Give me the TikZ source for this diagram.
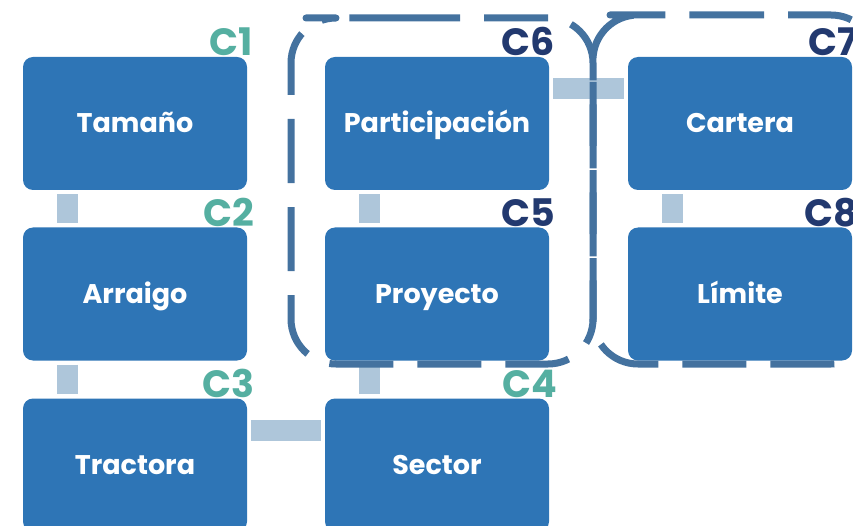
\documentclass[tikz,border=0pt]{standalone}
\usepackage{fontspec}
\setmainfont{Poppins}
\definecolor{azul}{HTML}{2E75B6}
\definecolor{celeste}{HTML}{AEC6DA}
\definecolor{borde}{HTML}{44729F}
\definecolor{verde}{HTML}{55AFA1}
\definecolor{marino}{HTML}{22396F}
\begin{document}
\begin{tikzpicture}[x=1pt, y=-1pt, line join=round,
	caja/.style={fill=azul, text=white, rounded corners=10pt, minimum width=224pt, minimum height=133pt, inner sep=0pt, text height=19pt, text depth=0pt, font=\fontsize{27}{30}\selectfont\bfseries},
	enlace/.style={draw=celeste, line width=21pt, shorten <=4pt, shorten >=4pt},
	grupo/.style={draw=borde, line width=7pt, rounded corners=45pt, dash pattern=on 64pt off 24pt},
	etq/.style={anchor=base east, inner sep=0pt, font=\fontsize{38}{40}\selectfont\bfseries}]
	\useasboundingbox (0,0) rectangle (853,526);
	\def\xa{135} \def\xb{437} \def\xc{740} % columnas
	\def\ya{123.5} \def\yb{294} \def\yc{465} % filas
	\node[caja] (tam) at (\xa,\ya) {Tamaño};
	\node[caja] (arr) at (\xa,\yb) {Arraigo};
	\node[caja] (tra) at (\xa,\yc) {Tractora};
	\node[caja] (sec) at (\xb,\yc) {Sector};
	\node[caja] (pro) at (\xb,\yb) {Proyecto};
	\node[caja] (par) at (\xb,\ya) {Participación};
	\node[caja] (car) at (\xc,\ya) {Cartera};
	\node[caja] (lim) at (\xc,\yb) {Límite};
	% etiquetas
	\node[etq, text=verde] (c1) at ([xshift=6pt,yshift=1pt]tam.north east) {C1};
	\node[etq, text=verde] (c2) at ([xshift=7pt,yshift=1pt]arr.north east) {C2};
	\node[etq, text=verde] (c3) at ([xshift=7pt,yshift=1pt]tra.north east) {C3};
	\node[etq, text=verde] (c4) at ([xshift=8pt,yshift=1pt]sec.north east) {C4};
	\node[etq, text=marino] (c5) at ([xshift=6pt,yshift=1pt]pro.north east) {C5};
	\node[etq, text=marino] (c6) at ([xshift=6pt,yshift=1pt]par.north east) {C6};
	\node[etq, text=marino] (c7) at ([xshift=6pt,yshift=1pt]car.north east) {C7};
	\node[etq, text=marino] (c8) at ([xshift=6pt,yshift=1pt]lim.north east) {C8};
	% enlaces
	\draw[enlace] ([xshift=45pt]tam.south west) -- ([xshift=45pt]arr.north west);
	\draw[enlace] ([xshift=45pt]arr.south west) -- ([xshift=45pt]tra.north west);
	\draw[enlace] ([xshift=45pt]par.south west) -- ([xshift=45pt]pro.north west);
	\draw[enlace] ([xshift=45pt]pro.south west) -- ([xshift=45pt]sec.north west);
	\draw[enlace] ([xshift=45pt]car.south west) -- ([xshift=45pt]lim.north west);
	\draw[enlace] ([yshift=-32pt]tra.north east) -- ([yshift=-32pt]sec.north west);
	\draw[enlace] ([yshift=-32pt]par.north east) -- ([yshift=-32pt]car.north west);
	% grupos
	\draw[grupo] (351,18) -| (593,364) -| (291,18) -- cycle;
	\draw[grupo] (655,15) -| (876,364) -| (593,15) -- cycle;
\end{tikzpicture}
\end{document}
